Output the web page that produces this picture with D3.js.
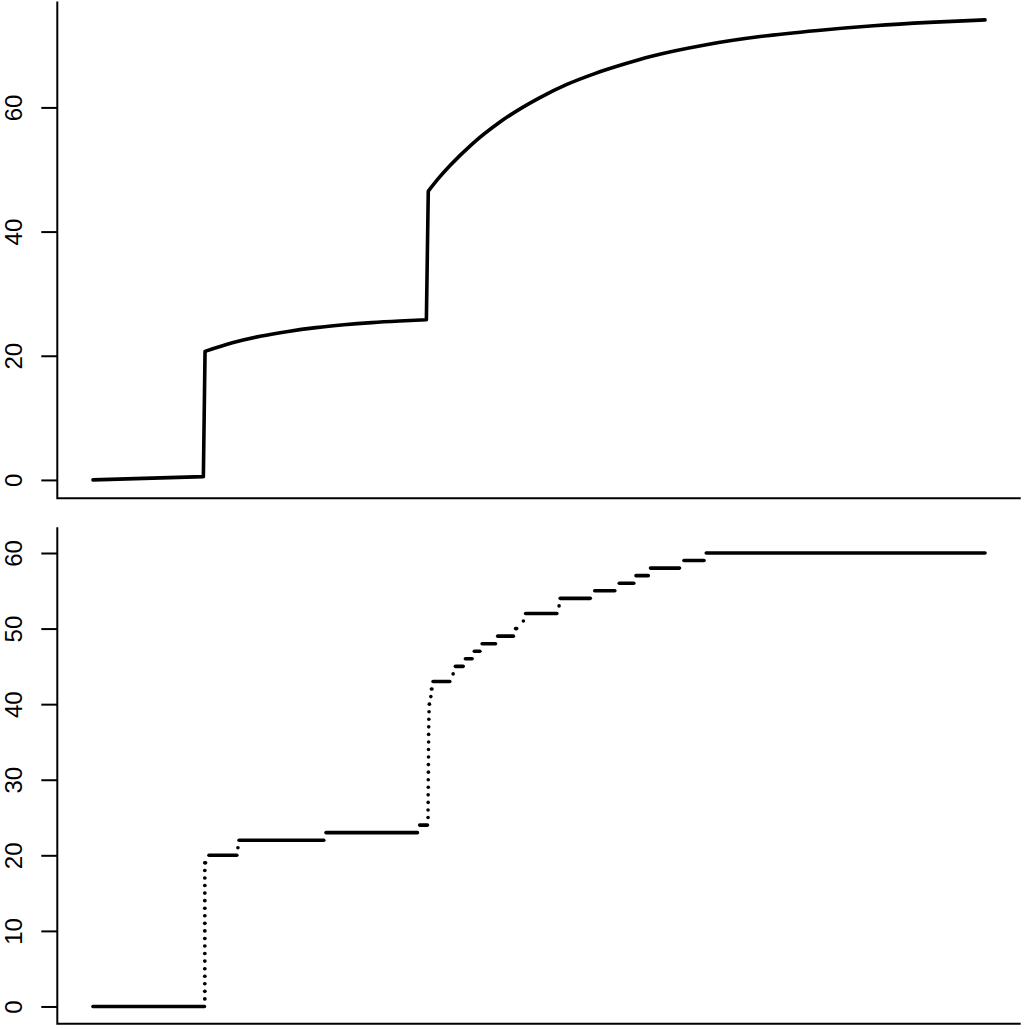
<!DOCTYPE html>
<html><head><meta charset="utf-8">
<script src="https://cdn.jsdelivr.net/npm/d3@7/dist/d3.min.js"></script>
<style>body{margin:0;background:#fff;} svg{display:block;}</style>
</head><body>
<script>
// ---- data ----
const topTicks = [0, 20, 40, 60];
const bottomTicks = [0, 10, 20, 30, 40, 50, 60];
const xDomain = [-0.32, 8.32];
const topYDomain = [-2.96, 77.06];
const bottomYDomain = [-2.28, 63.4];

// continuous series (top panel); jumps occur between pieces
const curveT = [0, 0.99,
  1.005, 1.25, 1.5, 1.75, 2.0, 2.25, 2.5, 2.75, 2.99,
  3.007, 3.1, 3.2, 3.4, 3.65, 4.0, 4.25, 4.5, 4.75, 5.0, 5.5, 6.0, 6.5, 7.0, 7.5, 8.0];
const curveV = [0, 0.53,
  20.7, 22.08, 23.13, 23.92, 24.53, 24.99, 25.34, 25.6, 25.8,
  46.5, 48.6, 50.6, 54.1, 57.65, 61.5, 63.7, 65.45, 66.9, 68.2, 70.1, 71.45, 72.4, 73.15, 73.7, 74.1];
const curvePieces = [[0, 1], [2, 10], [11, 26]]; // index ranges of smooth pieces

// step series (bottom panel): level, start, end
const stepLevel = d3.range(0, 61);
const stepStart = [0.00,
  1.002,1.002,1.002,1.002,1.002,1.002,1.002,1.002,1.002,1.002,1.002,1.002,1.002,1.002,1.002,1.002,1.002,1.002,1.002,
  1.04, 1.30, 1.31, 2.09, 2.93,
  3.005,3.005,3.006,3.006,3.007,3.007,3.008,3.008,3.009,3.009,3.010,3.010,3.011,3.012,3.014,3.016,
  3.03, 3.035, 3.05, 3.23, 3.25, 3.34, 3.42, 3.49, 3.63, 3.79, 3.86, 3.88, 4.18, 4.19, 4.50, 4.72, 4.87, 5.00, 5.30, 5.50];
const stepEnd = [1.00,
  1.004,1.004,1.004,1.004,1.004,1.004,1.004,1.004,1.004,1.004,1.004,1.004,1.004,1.004,1.004,1.004,1.004,1.004,1.01,
  1.29, 1.30, 2.07, 2.91, 3.00,
  3.005,3.005,3.006,3.006,3.007,3.007,3.008,3.008,3.009,3.009,3.010,3.010,3.011,3.012,3.014,3.018,
  3.03, 3.04, 3.20, 3.23, 3.32, 3.40, 3.47, 3.61, 3.77, 3.80, 3.86, 4.16, 4.18, 4.46, 4.68, 4.85, 4.98, 5.26, 5.48, 8.00];

// ---- drawing ----
const W = 1024, H = 1029;
const svg = d3.select("body").append("svg").attr("width", W).attr("height", H);
const x = d3.scaleLinear().domain(xDomain).range([57.3, 1020.7]);
const font = "'Liberation Sans', Arial, Helvetica, sans-serif";

function panel(yDomain, top, bottom, ticks) {
  const y = d3.scaleLinear().domain(yDomain).range([bottom, top]);
  const g = svg.append("g");
  g.append("path")
    .attr("d", `M${x.range()[0]},${top}V${bottom}H${x.range()[1]}`)
    .attr("fill", "none").attr("stroke", "#000").attr("stroke-width", 2);
  const ax = g.append("g").attr("transform", `translate(${x.range()[0]},0)`)
    .call(d3.axisLeft(y).tickValues(ticks).tickSize(16).tickSizeOuter(0));
  ax.select(".domain").remove();
  ax.selectAll(".tick line").attr("stroke", "#000").attr("stroke-width", 2);
  ax.selectAll(".tick text").remove();
  ax.selectAll(".tick").append("text")
    .attr("transform", "translate(-35,0) rotate(-90)")
    .attr("text-anchor", "middle")
    .attr("fill", "#000")
    .style("font-family", font).style("font-size", "24px")
    .text(d => d);
  return {g, y};
}

const p1 = panel(topYDomain, 1.5, 498.3, topTicks);
const smooth = d3.line().x(i => x(curveT[i])).y(i => p1.y(curveV[i])).curve(d3.curveMonotoneX);
let dStr = "";
curvePieces.forEach(([a, b], k) => {
  const s = smooth(d3.range(a, b + 1));
  dStr += k === 0 ? s : "L" + s.slice(1);
});
p1.g.append("path").attr("d", dStr)
  .attr("fill", "none").attr("stroke", "#000").attr("stroke-width", 3.6)
  .attr("stroke-linejoin", "round").attr("stroke-linecap", "round");

const p2 = panel(bottomYDomain, 527.3, 1023.7, bottomTicks);
p2.g.selectAll("line.step").data(stepLevel).enter().append("line")
  .attr("class", "step")
  .attr("x1", (d, i) => x(stepStart[i])).attr("x2", (d, i) => x(stepEnd[i]))
  .attr("y1", d => p2.y(d)).attr("y2", d => p2.y(d))
  .attr("stroke", "#000").attr("stroke-width", 3.6).attr("stroke-linecap", "round");
</script>
</body></html>
